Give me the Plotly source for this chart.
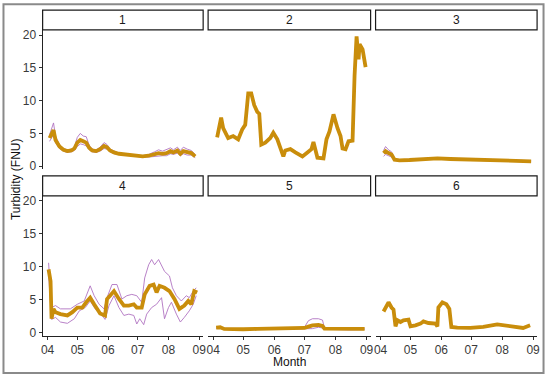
import plotly.graph_objects as go

YEAR = "2021"

# ---------------- data (month-day, turbidity FNU) ----------------
p1_dates = ["04-03","04-05","04-07","04-09","04-13","04-17","04-21","04-25","04-28","05-01",
            "05-04","05-07","05-10","05-13","05-16","05-20","05-24","05-28","05-31","06-03",
            "06-07","06-12","06-18","06-24","06-30","07-06","07-12","07-18","07-22","07-26",
            "07-30","08-03","08-06","08-10","08-13","08-16","08-20","08-24","08-28"]
p1_mid = [4.3,5.0,5.5,4.0,3.0,2.5,2.3,2.4,2.7,3.6,4.0,3.8,3.6,2.8,2.4,2.3,2.6,3.1,2.9,2.4,
          2.1,1.9,1.8,1.6,1.5,1.5,1.6,1.8,2.0,1.9,2.0,2.3,2.1,2.4,1.9,2.3,2.1,2.0,1.5]
p1_up = [4.8,5.6,6.6,4.6,3.3,2.7,2.5,2.6,2.9,4.4,5.0,4.6,4.5,3.2,2.6,2.5,2.9,3.6,3.3,2.6,
         2.3,2.0,1.9,1.7,1.6,1.6,1.8,2.2,2.5,2.3,2.5,2.8,2.5,2.9,2.4,2.9,2.6,2.4,1.8]
p1_lo = [3.8,4.4,4.8,3.6,2.7,2.3,2.1,2.2,2.4,3.0,3.4,3.3,3.1,2.5,2.2,2.1,2.3,2.7,2.6,2.2,
         1.9,1.8,1.7,1.5,1.4,1.4,1.4,1.5,1.6,1.6,1.6,1.9,1.8,2.0,1.6,1.9,1.7,1.7,1.3]

p2_dates = ["04-05","04-09","04-11","04-16","04-21","04-26","04-30","05-03","05-06","05-09",
            "05-12","05-15","05-17","05-19","05-23","05-28","05-31","06-04","06-07","06-10",
            "06-12","06-17","06-22","06-29","07-04","07-08","07-10","07-12","07-14","07-20",
            "07-23","07-26","07-30","08-03","08-06","08-08","08-11","08-14","08-18","08-20",
            "08-22","08-24","08-25","08-28","08-31"]
p2_mid = [4.4,7.4,5.8,4.3,4.6,4.1,5.6,6.3,11.1,11.1,9.3,8.3,8.0,3.3,3.6,4.3,5.1,4.1,2.8,1.5,
          2.4,2.6,2.1,1.5,2.1,2.6,3.7,2.3,1.3,1.2,4.1,5.3,7.9,5.8,4.6,2.7,2.6,3.8,3.9,13.8,
          19.8,16.3,18.6,17.8,15.1]

p3_dates = ["04-04","04-06","04-09","04-12","04-15","04-20","04-30","05-10","05-20","05-28",
            "06-10","06-25","07-10","07-25","08-10","08-20","08-30"]
p3_mid = [2.0,2.3,2.0,1.8,1.0,0.9,0.95,1.0,1.1,1.2,1.1,1.05,1.0,0.95,0.9,0.8,0.75]
p3_up = [2.4,3.0,2.5,2.2,1.1,1.0,1.05,1.1,1.2,1.3,1.2,1.15,1.1,1.05,1.0,0.9,0.85]
p3_lo = [1.5,1.8,1.6,1.4,0.9,0.8,0.85,0.9,1.0,1.1,1.0,0.95,0.9,0.85,0.8,0.7,0.65]

p4_dates = ["04-02","04-04","04-05","04-07","04-09","04-14","04-21","04-26","05-01","05-06",
            "05-10","05-14","05-18","05-21","05-24","05-29","05-31","06-03","06-07","06-12",
            "06-17","06-22","06-27","06-30","07-05","07-08","07-13","07-17","07-20","07-23",
            "07-28","08-02","08-07","08-12","08-17","08-21","08-24","08-27","08-30"]
p4_mid = [9.6,7.8,2.1,3.6,3.1,2.8,2.6,3.1,3.8,3.8,4.6,5.3,4.3,3.6,2.9,2.6,5.1,5.6,6.3,5.1,
          4.1,4.1,4.3,3.8,3.8,5.8,7.1,7.3,6.1,7.1,6.8,6.3,5.1,3.6,4.1,4.8,4.3,6.3,6.1]
p4_up_dates = ["04-02","04-05","04-09","04-14","04-24","05-01","05-08","05-14","05-18","05-23",
               "05-28","05-31","06-05","06-10","06-15","06-20","06-25","06-30","07-05","07-08",
               "07-12","07-15","07-18","07-22","07-28","08-02","08-05","08-09","08-14","08-19",
               "08-22","08-26","08-29"]
p4_up = [10.6,3.8,4.1,3.6,3.6,4.3,4.8,7.1,5.6,4.3,3.6,5.3,7.3,7.3,5.1,5.6,5.8,5.6,4.6,8.3,
         10.3,11.1,10.3,11.1,9.3,8.6,6.8,5.6,4.8,5.6,5.3,6.3,6.8]
p4_lo_dates = ["04-02","04-05","04-09","04-14","04-21","04-28","05-03","05-09","05-14","05-19",
               "05-26","05-29","06-02","06-07","06-12","06-17","06-22","06-27","06-30","07-03",
               "07-07","07-10","07-15","07-20","07-25","07-28","08-01","08-04","08-09","08-13",
               "08-17","08-22","08-26","08-29"]
p4_lo = [8.8,2.0,2.3,1.6,1.4,2.1,3.3,3.8,4.8,3.6,2.6,2.0,4.1,5.6,3.8,2.6,2.8,2.6,1.3,2.1,
         1.2,2.8,3.8,4.3,5.3,2.1,3.8,4.6,2.8,1.6,2.3,3.3,4.3,5.6]

p5_dates = ["04-04","04-08","04-12","04-20","05-01","05-15","06-01","06-15","07-01","07-05",
            "07-09","07-15","07-19","07-21","08-01","08-15","08-30"]
p5_mid = [0.75,0.8,0.55,0.5,0.5,0.55,0.6,0.65,0.7,0.9,1.1,1.15,1.0,0.6,0.55,0.5,0.55]
p5_up = [0.85,0.9,0.65,0.6,0.6,0.65,0.75,0.75,0.8,1.8,2.1,2.1,1.9,0.7,0.65,0.6,0.65]
p5_lo = [0.65,0.7,0.45,0.4,0.4,0.45,0.5,0.55,0.6,0.6,0.6,0.8,0.7,0.5,0.45,0.4,0.45]

p6_dates = ["04-04","04-09","04-12","04-14","04-16","04-18","04-21","04-24","04-29","05-01",
            "05-06","05-11","05-14","05-19","05-26","05-28","05-29","06-02","06-06","06-09",
            "06-11","06-17","06-30","07-13","07-27","08-02","08-12","08-22","08-29"]
p6_mid = [3.2,4.6,3.8,3.5,0.95,1.85,1.6,1.85,1.95,0.95,1.1,1.35,1.7,1.45,1.35,0.95,3.8,4.6,
          4.3,3.6,0.85,0.75,0.7,0.85,1.25,1.1,0.85,0.7,1.1]

panel_labels = ["1", "2", "3", "4", "5", "6"]
month_ticks = ["04-01", "05-01", "06-01", "07-01", "08-01", "09-01"]
month_text = ["04", "05", "06", "07", "08", "09"]
y_ticks = [0, 5, 10, 15, 20]

# ---------------- figure ----------------
W, H = 550, 380
def px(x): return x / W
def py(y): return 1 - y / H
def d(lst): return [f"{YEAR}-{s}" for s in lst]

MID_COLOR = "#C98D0B"
BAND_COLOR = "#A45CB8"

cols = [(41, 203), (208, 372), (377, 540)]
rows = [(28.4, 170), (197, 339)]
strips = [(8.3, 28.4), (176.7, 197)]

panels = [
    dict(mid=(p1_dates, p1_mid), bands=[(p1_dates, p1_up), (p1_dates, p1_lo)]),
    dict(mid=(p2_dates, p2_mid), bands=[]),
    dict(mid=(p3_dates, p3_mid), bands=[(p3_dates, p3_up), (p3_dates, p3_lo)]),
    dict(mid=(p4_dates, p4_mid), bands=[(p4_up_dates, p4_up), (p4_lo_dates, p4_lo)]),
    dict(mid=(p5_dates, p5_mid), bands=[(p5_dates, p5_up), (p5_dates, p5_lo)]),
    dict(mid=(p6_dates, p6_mid), bands=[]),
]

fig = go.Figure()
layout = {}
shapes = []
annotations = []
FONT = "Liberation Sans, Arial, sans-serif"
tickfont = dict(family=FONT, size=12, color="#3a3a3a")

for i, p in enumerate(panels):
    r, c = divmod(i, 3)
    n = i + 1
    xa = "x" if n == 1 else f"x{n}"
    ya = "y" if n == 1 else f"y{n}"
    for bd, bv in p["bands"]:
        fig.add_trace(go.Scatter(x=d(bd), y=bv, mode="lines", xaxis=xa, yaxis=ya,
                                 line=dict(color=BAND_COLOR, width=0.9), showlegend=False,
                                 opacity=0.85))
    md, mv = p["mid"]
    fig.add_trace(go.Scatter(x=d(md), y=mv, mode="lines", xaxis=xa, yaxis=ya,
                             line=dict(color=MID_COLOR, width=3.8), showlegend=False))
    bottom = r == 1
    left = c == 0
    layout[f"xaxis{'' if n == 1 else n}"] = dict(
        domain=[px(cols[c][0]), px(cols[c][1])], anchor=ya, type="date",
        range=[f"{YEAR}-03-27", f"{YEAR}-09-05"],
        tickvals=d(month_ticks), ticktext=month_text,
        showticklabels=bottom, ticks="outside" if bottom else "", ticklen=3,
        tickcolor="#333", showline=bottom, linecolor="#222", linewidth=1,
        showgrid=False, zeroline=False, tickfont=tickfont)
    layout[f"yaxis{'' if n == 1 else n}"] = dict(
        domain=[py(rows[r][1]), py(rows[r][0])], anchor=xa,
        range=[-0.47, 20.77], tickvals=y_ticks,
        showticklabels=left, ticks="outside" if left else "", ticklen=3,
        tickcolor="#333", showline=left, linecolor="#222", linewidth=1,
        showgrid=False, zeroline=False, tickfont=tickfont)
    # strip
    shapes.append(dict(type="rect", xref="paper", yref="paper",
                       x0=px(cols[c][0]), x1=px(cols[c][1]),
                       y0=py(strips[r][1]), y1=py(strips[r][0]),
                       line=dict(color="#1a1a1a", width=1.2), fillcolor="white", layer="above"))
    annotations.append(dict(text=panel_labels[i], xref="paper", yref="paper",
                            x=px((cols[c][0] + cols[c][1]) / 2),
                            y=py((strips[r][0] + strips[r][1]) / 2),
                            showarrow=False, xanchor="center", yanchor="middle",
                            font=dict(family=FONT, size=12, color="#1a1a1a")))

# outer gray frame
shapes.append(dict(type="rect", xref="paper", yref="paper",
                   x0=px(1.5), x1=px(546.5), y0=py(377), y1=py(2.3),
                   line=dict(color="#8a8a8a", width=2), fillcolor="rgba(0,0,0,0)"))

annotations.append(dict(text="Month", xref="paper", yref="paper", x=px(290), y=py(366),
                        showarrow=False, xanchor="center", yanchor="middle",
                        font=dict(family=FONT, size=12, color="#111")))
annotations.append(dict(text="Turbidity (FNU)", xref="paper", yref="paper", x=px(14),
                        y=py(180), textangle=-90, showarrow=False, xanchor="center",
                        yanchor="middle", font=dict(family=FONT, size=12, color="#111")))

fig.update_layout(width=W, height=H, margin=dict(l=0, r=0, t=0, b=0),
                  paper_bgcolor="white", plot_bgcolor="white",
                  shapes=shapes, annotations=annotations, **layout)

fig.write_html("out.html", config={"displayModeBar": False},
               post_script="document.body.style.margin='0';document.body.style.padding='0';"
                           "document.body.style.overflow='hidden';")
